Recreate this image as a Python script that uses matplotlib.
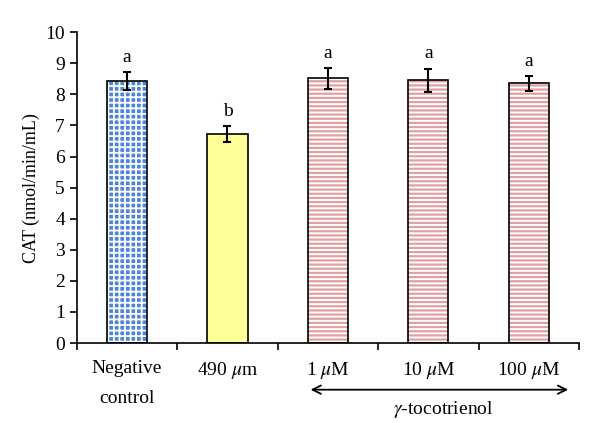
import matplotlib
matplotlib.use("Agg")
import matplotlib.pyplot as plt

plt.rcParams['font.family'] = ['Liberation Serif', 'DejaVu Serif']
plt.rcParams['mathtext.fontset'] = 'stix'

groups = ['Negative\ncontrol', r'490 $\mu$m', r'1 $\mu$M', r'10 $\mu$M', r'100 $\mu$M']
cat = [8.42, 6.72, 8.51, 8.46, 8.35]
err = [0.29, 0.26, 0.34, 0.37, 0.24]
letters = ['a', 'b', 'a', 'a', 'a']

fig = plt.figure(figsize=(6, 4.23), dpi=100)
ax = fig.add_axes([0.128, 0.189, 0.837, 0.735])

x = [i + 0.5 for i in range(len(cat))]
w = 0.4

# negative control: blue dotted fill
plt.rcParams['hatch.linewidth'] = 1.3
ax.bar(x[0], cat[0], w, color='#4f86d3', edgecolor='white', linewidth=0, hatch='+++', zorder=2)
# 490: plain yellow
ax.bar(x[1], cat[1], w, color='#ffff99', linewidth=0, zorder=2)
# tocotrienol: pink stripes
plt.rcParams['hatch.linewidth'] = 1.6
for i in range(2, 5):
    ax.bar(x[i], cat[i], w, color='white', edgecolor='#e0a0a4', linewidth=0, hatch='----', zorder=2)
# outlines
ax.bar(x, cat, w, color='none', edgecolor='black', linewidth=1.2, zorder=3)
ax.errorbar(x, cat, yerr=err, fmt='none', ecolor='black', elinewidth=1.5, capsize=3, capthick=1.5, zorder=4)

for xi, v, e, t in zip(x, cat, err, letters):
    ax.text(xi, v + e + 0.2, t, ha='center', va='bottom', fontsize=14)

ax.set_xlim(0, 5)
ax.set_ylim(0, 10)
ax.set_yticks(range(0, 11))
ax.set_xticks(range(0, 6))
ax.set_xticklabels([])
ax.set_xticks(x, minor=True)
ax.set_xticklabels(groups, minor=True, fontsize=14, linespacing=2.0)
ax.tick_params(axis='x', which='minor', length=0, pad=12)
ax.tick_params(axis='x', which='major', direction='out', length=5, width=1.2)
ax.tick_params(axis='y', direction='out', length=5, width=1.2, labelsize=14)
for s in ['top', 'right']:
    ax.spines[s].set_visible(False)
for s in ['left', 'bottom']:
    ax.spines[s].set_linewidth(1.2)
ax.set_ylabel('CAT (nmol/min/mL)', fontsize=13)

ax.annotate('', xy=(4.92, -1.5), xytext=(2.3, -1.5), xycoords='data', annotation_clip=False,
            arrowprops=dict(arrowstyle='<->', lw=1.3, color='black', mutation_scale=15))
ax.text(3.65, -2.13, r'$\gamma$-tocotrienol', ha='center', va='center', fontsize=14, clip_on=False)

fig.savefig('out.png', dpi=100)
